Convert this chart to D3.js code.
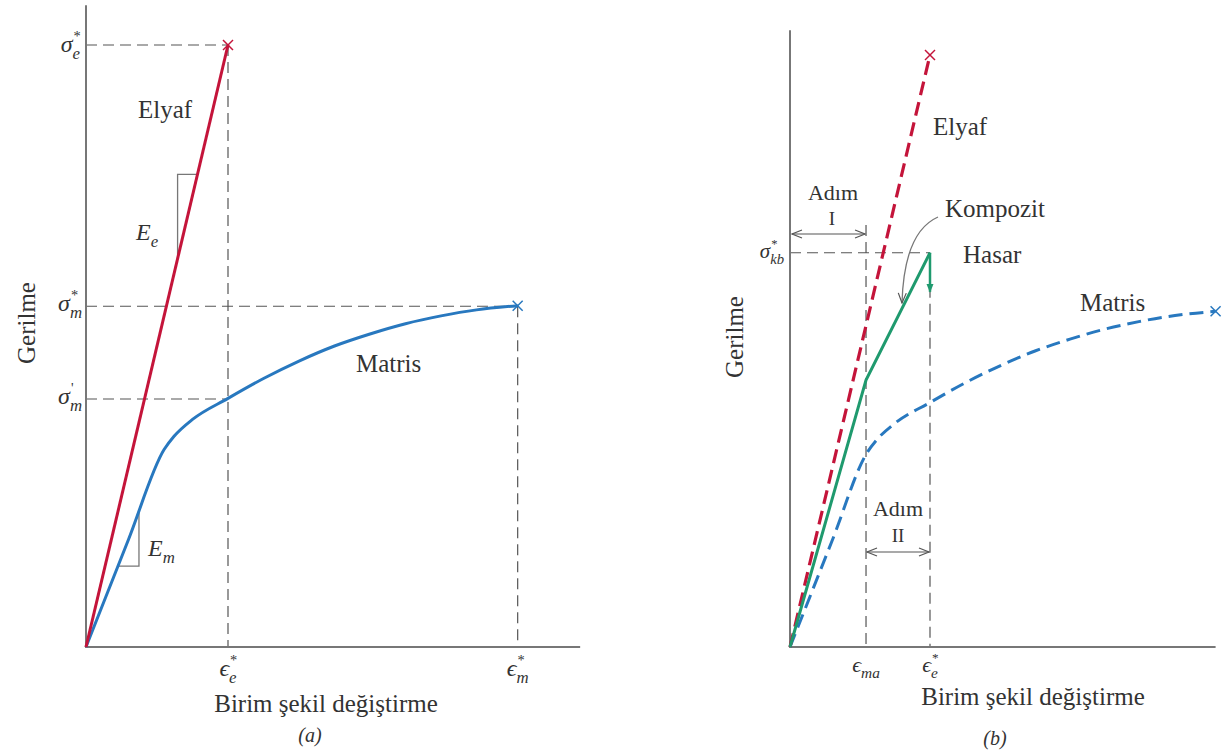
<!DOCTYPE html>
<html>
<script src="https://d3js.org/d3.v7.min.js"></script>
<head>
    <style>
        body { margin: 0; background: white; }
        svg { display: block; font-family: "Liberation Serif", "DejaVu Serif", serif; }
    </style>
</head>
<body>
    <svg width="1224" height="754">
        <defs>
            <marker id="open" viewBox="0 0 12 10" refX="11" refY="5" markerWidth="12" markerHeight="10"
                markerUnits="userSpaceOnUse" orient="auto-start-reverse">
                <path d="M1,1 L11,5 L1,9" fill="none" stroke="#555" stroke-width="1.2" />
            </marker>
            <marker id="greenHead" viewBox="0 0 10 10" refX="9" refY="5" markerWidth="9" markerHeight="9"
                markerUnits="userSpaceOnUse" orient="auto">
                <path d="M0,1 L10,5 L0,9 Z" fill="#1f9a6e" />
            </marker>
        </defs>
    </svg>
</body>
<script>
    const svg = d3.select("svg");

    // strain in units of eps_e*, stress in units of sigma_e*
    const fiber = [[0, 0], [1, 1]];
    const matrix = [[0, 0], [0.3, 0.179], [0.55, 0.328], [0.62, 0.35], [0.75, 0.378], [1, 0.413],
        [1.25, 0.446], [1.5, 0.475], [1.75, 0.5], [2, 0.52], [2.25, 0.537], [2.5, 0.55],
        [2.75, 0.56], [3.04, 0.567]];
    const composite = [[0, 0], [0.543, 0.451], [1, 0.666]];
    const compositeDrop = [[1, 0.666], [1, 0.6]];
    const fiberTriangle = [0.645, 0.785];   // E_e slope triangle (strains)
    const matrixTriangle = [0.225, 0.373];  // E_m slope triangle (strains)
    const strainA = { eps_e: 1, eps_m: 3.04, xMax: 3.48 };
    const stressA = { sig_e: 1, sig_m: 0.566, sig_m1: 0.412, yMax: 1.066 };
    const strainB = { eps_ma: 0.543, eps_e: 1, xMax: 3.04 };
    const stressB = { sig_kb: 0.666, yMax: 1.042 };

    const RED = "#c4143a", BLUE = "#2878bf", GREEN = "#1f9a6e", GREY = "#555", TXT = "#333";
    const FS = 25;

    const xA = d3.scaleLinear().domain([0, 1]).range([86, 228]);
    const yA = d3.scaleLinear().domain([0, 1]).range([647, 45]);
    const xB = d3.scaleLinear().domain([0, 1]).range([790, 930]);
    const yB = d3.scaleLinear().domain([0, 1]).range([647, 55]);

    function line(g, x1, y1, x2, y2, color, w, dash) {
        return g.append("line").attr("x1", x1).attr("y1", y1).attr("x2", x2).attr("y2", y2)
            .attr("stroke", color).attr("stroke-width", w).attr("stroke-dasharray", dash || null);
    }

    function cross(g, x, y, color) {
        line(g, x - 5, y - 5, x + 5, y + 5, color, 1.5);
        line(g, x - 5, y + 5, x + 5, y - 5, color, 1.5);
    }

    function label(g, x, y, txt, size, opts) {
        opts = opts || {};
        return g.append("text").attr("x", x).attr("y", y)
            .attr("fill", TXT).attr("font-size", size)
            .attr("font-style", opts.italic ? "italic" : null)
            .attr("text-anchor", opts.anchor || "start")
            .text(txt);
    }

    // symbol with subscript and a superscript stacked above the subscript
    function symbol(g, x, y, main, sub, sup, anchor, size) {
        size = size || 24;
        const t = g.append("text").attr("x", x).attr("y", y).attr("fill", TXT)
            .attr("font-size", size).attr("font-style", "italic");
        t.append("tspan").text(main);
        t.append("tspan").attr("font-size", size * 0.7).attr("dy", size * 0.28).text(sub);
        const w = t.node().getComputedTextLength();
        let dx = 0;
        if (anchor === "end") dx = -w;
        if (anchor === "middle") dx = -w / 2;
        t.attr("x", x + dx);
        const mainW = t.select("tspan").node().getComputedTextLength();
        if (sup) {
            g.append("text").attr("x", x + dx + mainW + 1).attr("y", y - size * 0.45)
                .attr("fill", TXT).attr("font-size", size * 0.6).text(sup);
        }
    }

    const lineGen = (xs, ys, curve) => d3.line().x(d => xs(d[0])).y(d => ys(d[1])).curve(curve || d3.curveLinear);

    // ---------- panel (a) ----------
    const a = svg.append("g");
    const dashA = "11,6";
    line(a, xA(0), yA(stressA.sig_e), xA(strainA.eps_e), yA(stressA.sig_e), GREY, 1.2, dashA);
    line(a, xA(0), yA(stressA.sig_m), xA(strainA.eps_m), yA(stressA.sig_m), GREY, 1.2, dashA);
    line(a, xA(0), yA(stressA.sig_m1), xA(strainA.eps_e), yA(stressA.sig_m1), GREY, 1.2, dashA);
    line(a, xA(strainA.eps_e), yA(stressA.sig_e), xA(strainA.eps_e), yA(0), GREY, 1.2, dashA);
    line(a, xA(strainA.eps_m), yA(stressA.sig_m), xA(strainA.eps_m), yA(0), GREY, 1.2, dashA);
    // axes
    line(a, xA(0), yA(stressA.yMax), xA(0), yA(0) + 1, "#777", 2);
    line(a, xA(0), yA(0), xA(strainA.xMax), yA(0), "#777", 2);
    // slope triangles
    const ft = fiberTriangle;
    a.append("path").attr("fill", "none").attr("stroke", "#777").attr("stroke-width", 1.3)
        .attr("d", `M${xA(ft[0])},${yA(ft[0])} L${xA(ft[0])},${yA(ft[1])} L${xA(ft[1])},${yA(ft[1])}`);
    const Em = matrix[1][1] / matrix[1][0];
    const mt = matrixTriangle;
    a.append("path").attr("fill", "none").attr("stroke", "#777").attr("stroke-width", 1.3)
        .attr("d", `M${xA(mt[0])},${yA(mt[0] * Em)} L${xA(mt[1])},${yA(mt[0] * Em)} L${xA(mt[1])},${yA(mt[1] * Em)}`);
    // curves
    a.append("path").attr("fill", "none").attr("stroke", BLUE).attr("stroke-width", 3)
        .attr("d", lineGen(xA, yA, d3.curveMonotoneX)(matrix));
    a.append("path").attr("fill", "none").attr("stroke", RED).attr("stroke-width", 3)
        .attr("d", lineGen(xA, yA)(fiber));
    cross(a, xA(fiber[1][0]), yA(fiber[1][1]), RED);
    cross(a, xA(matrix[matrix.length - 1][0]), yA(matrix[matrix.length - 1][1]), BLUE);
    // labels
    symbol(a, 80, yA(stressA.sig_e) + 7, "σ", "e", "*", "end");
    symbol(a, 82, yA(stressA.sig_m) + 5, "σ", "m", "*", "end");
    symbol(a, 82, yA(stressA.sig_m1) + 5, "σ", "m", "'", "end");
    symbol(a, xA(strainA.eps_e), 676, "ϵ", "e", "*", "middle");
    symbol(a, xA(strainA.eps_m), 676, "ϵ", "m", "*", "middle");
    label(a, 138, 118, "Elyaf", FS);
    label(a, 356, 372, "Matris", FS);
    symbol(a, 136, 240, "E", "e", null, "start");
    symbol(a, 148, 556, "E", "m", null, "start");
    label(a, 326, 712, "Birim şekil değiştirme", FS, { anchor: "middle" });
    label(a, 310, 742, "(a)", 20, { anchor: "middle", italic: true });
    label(a, 0, 0, "Gerilme", FS, { anchor: "middle" }).attr("transform", "translate(35,323) rotate(-90)");

    // ---------- panel (b) ----------
    const b = svg.append("g");
    line(b, xB(0), yB(stressB.sig_kb), xB(strainB.eps_e), yB(stressB.sig_kb), GREY, 1.2, dashA);
    line(b, xB(strainB.eps_ma), 225, xB(strainB.eps_ma), yB(0), GREY, 1.2, dashA);
    line(b, xB(strainB.eps_e), yB(stressB.sig_kb), xB(strainB.eps_e), yB(0), GREY, 1.2, dashA);
    line(b, xB(0), yB(stressB.yMax), xB(0), yB(0) + 1, "#777", 2);
    line(b, xB(0), yB(0), xB(strainB.xMax), yB(0), "#777", 2);
    b.append("path").attr("fill", "none").attr("stroke", BLUE).attr("stroke-width", 3)
        .attr("stroke-dasharray", "14,7")
        .attr("d", lineGen(xB, yB, d3.curveMonotoneX)(matrix));
    b.append("path").attr("fill", "none").attr("stroke", RED).attr("stroke-width", 3.2)
        .attr("stroke-dasharray", "14,7")
        .attr("d", lineGen(xB, yB)(fiber));
    b.append("path").attr("fill", "none").attr("stroke", GREEN).attr("stroke-width", 3)
        .attr("stroke-linejoin", "miter")
        .attr("d", lineGen(xB, yB)(composite));
    b.append("path").attr("fill", "none").attr("stroke", GREEN).attr("stroke-width", 2.5)
        .attr("marker-end", "url(#greenHead)")
        .attr("d", lineGen(xB, yB)(compositeDrop));
    cross(b, xB(fiber[1][0]), yB(fiber[1][1]), RED);
    cross(b, xB(matrix[matrix.length - 1][0]), yB(matrix[matrix.length - 1][1]), BLUE);
    // step arrows
    line(b, xB(0) + 2, 234, xB(strainB.eps_ma) - 1, 234, GREY, 1.2)
        .attr("marker-start", "url(#open)").attr("marker-end", "url(#open)");
    line(b, xB(strainB.eps_ma) + 1, 552, xB(strainB.eps_e) - 1, 552, GREY, 1.2)
        .attr("marker-start", "url(#open)").attr("marker-end", "url(#open)");
    label(b, 833, 200, "Adım", 22, { anchor: "middle" });
    label(b, 832, 225, "I", 19, { anchor: "middle" });
    label(b, 898, 516, "Adım", 22, { anchor: "middle" });
    label(b, 898, 542, "II", 19, { anchor: "middle" });
    // Kompozit pointer
    b.append("path").attr("fill", "none").attr("stroke", "#777").attr("stroke-width", 1.3)
        .attr("marker-end", "url(#open)")
        .attr("d", "M938,217 Q904,232 902,303");
    label(b, 945, 217, "Kompozit", FS);
    label(b, 963, 263, "Hasar", FS);
    label(b, 1080, 311, "Matris", FS);
    label(b, 933, 135, "Elyaf", FS);
    symbol(b, 784, yB(stressB.sig_kb) + 5, "σ", "kb", "*", "end", 21);
    symbol(b, xB(strainB.eps_ma), 672, "ϵ", "ma", null, "middle", 22);
    symbol(b, xB(strainB.eps_e), 672, "ϵ", "e", "*", "middle", 22);
    label(b, 1033, 705, "Birim şekil değiştirme", FS, { anchor: "middle" });
    label(b, 995, 745, "(b)", 20, { anchor: "middle", italic: true });
    label(b, 0, 0, "Gerilme", FS, { anchor: "middle" }).attr("transform", "translate(743,337) rotate(-90)");
</script>
</html>
